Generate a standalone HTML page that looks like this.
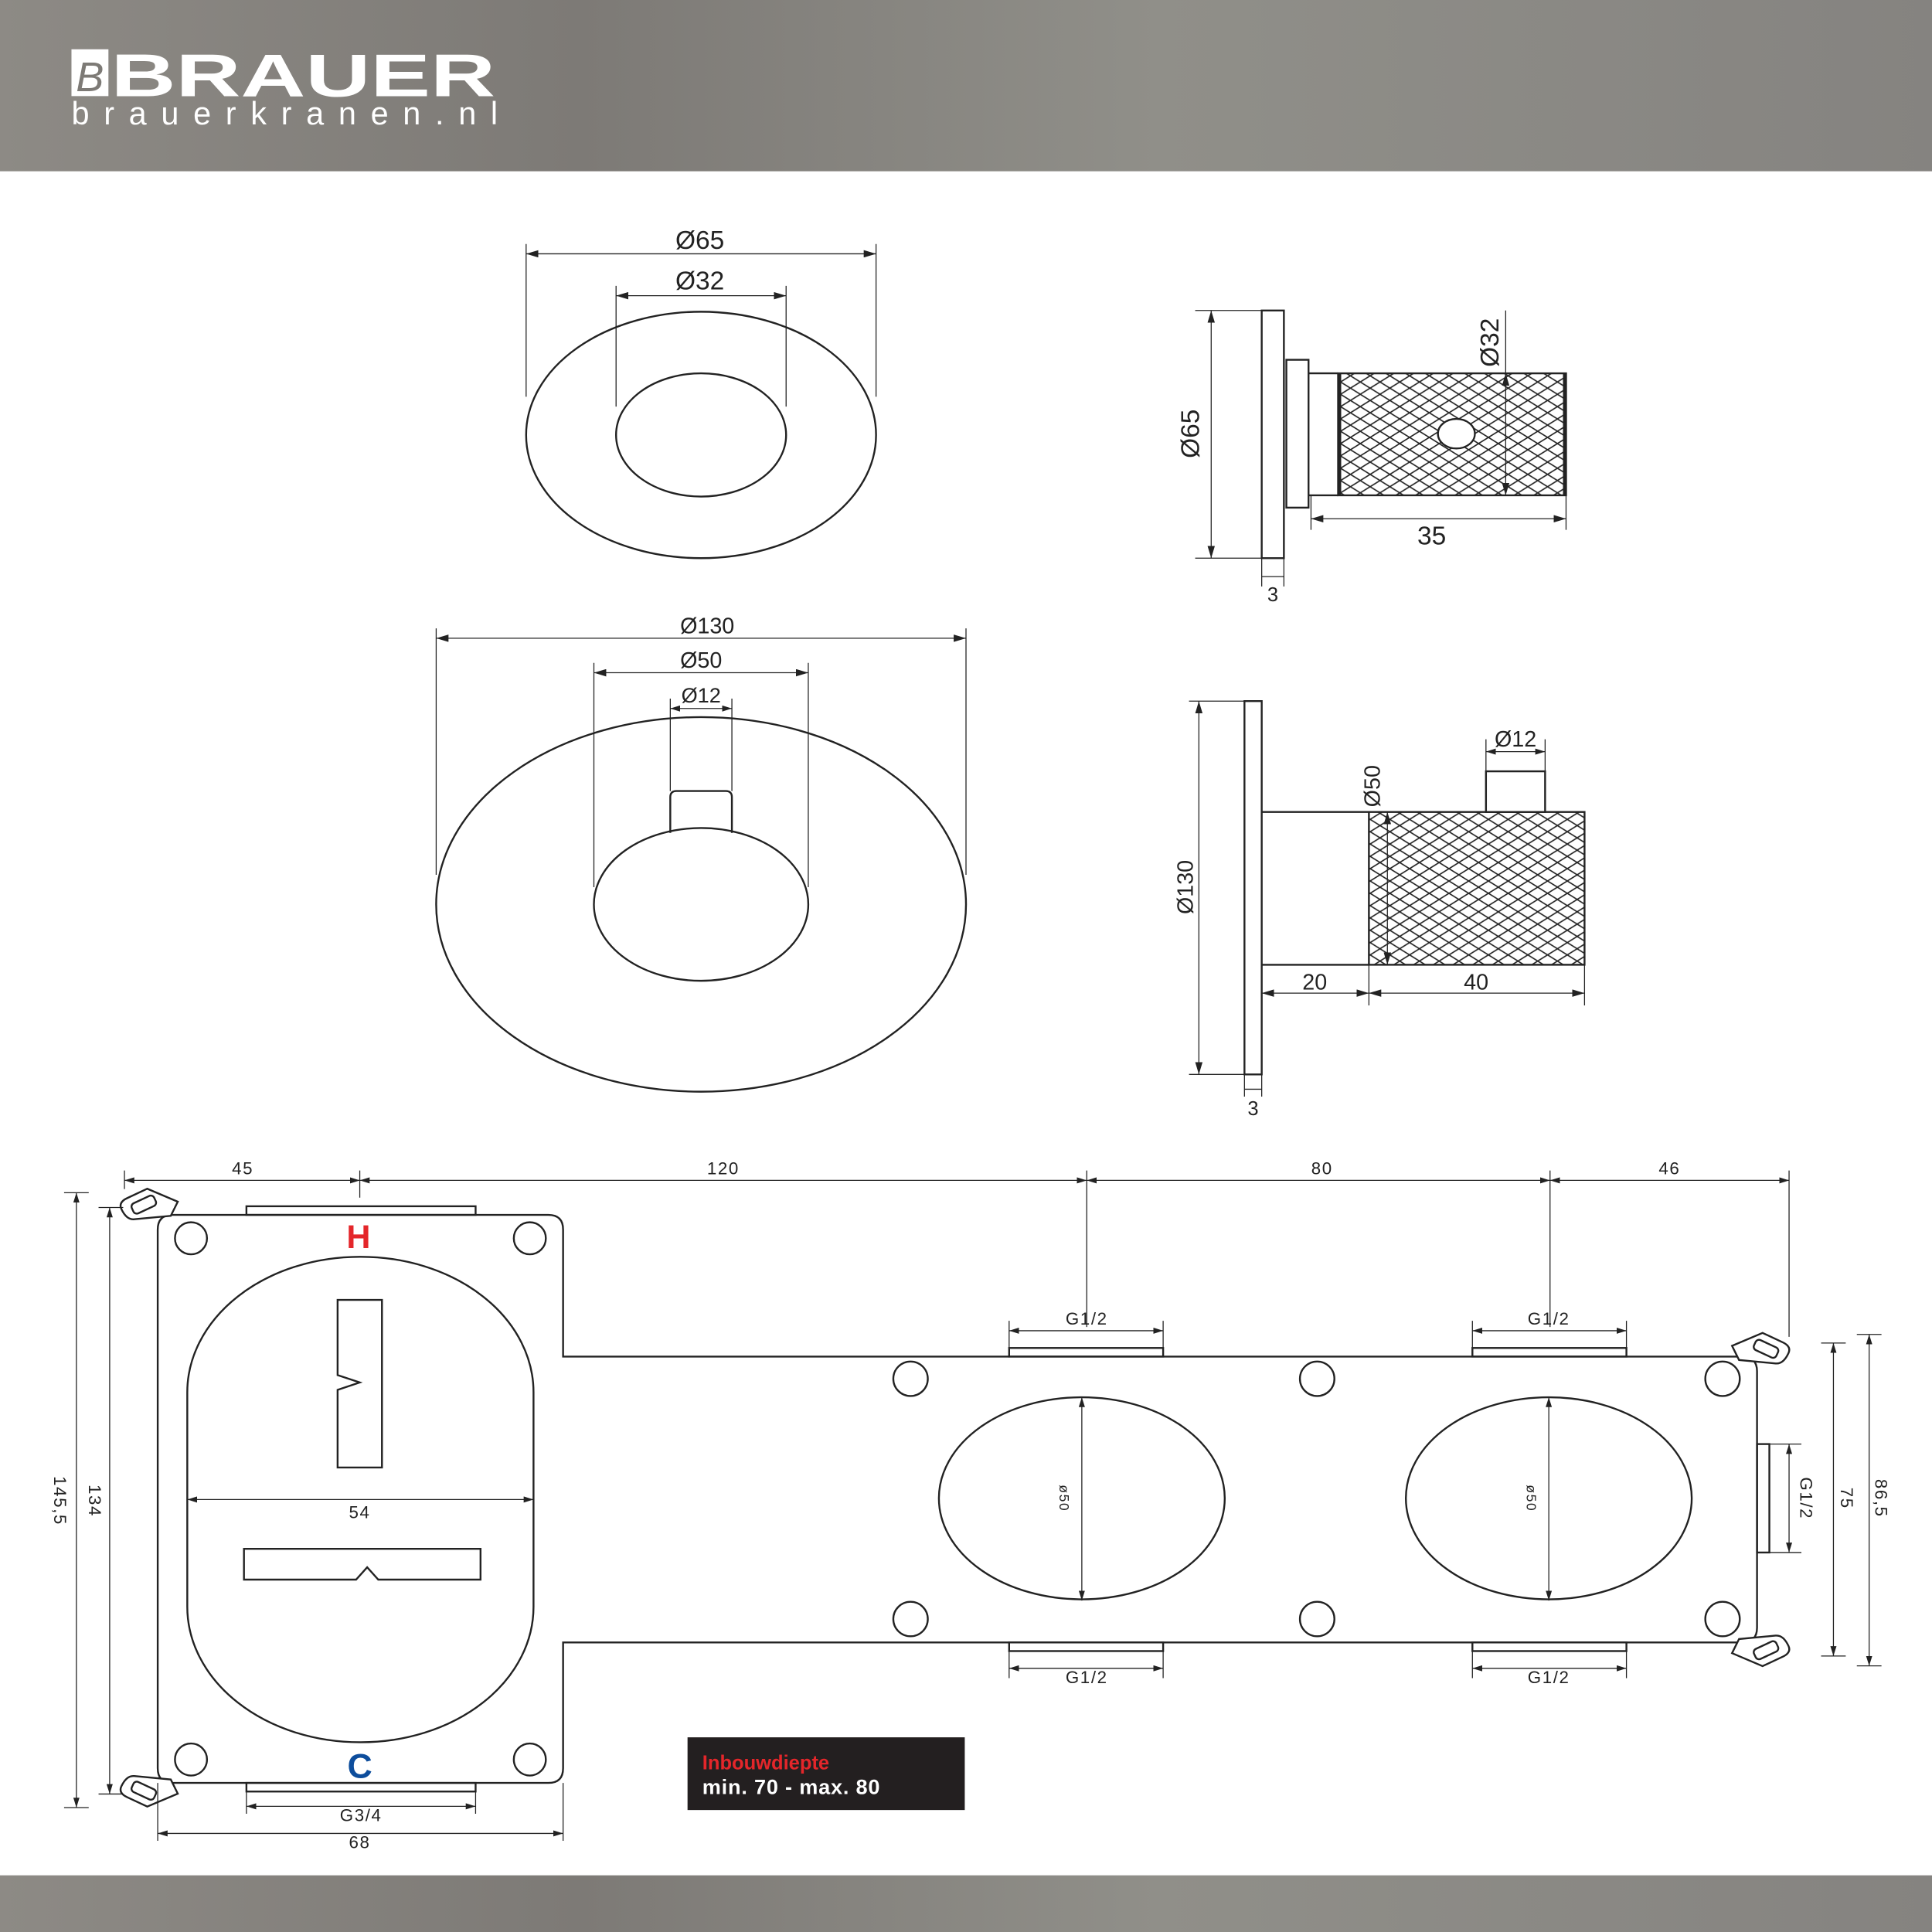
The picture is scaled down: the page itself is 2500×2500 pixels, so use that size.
<!DOCTYPE html>
<html><head><meta charset="utf-8"><style>
html,body{margin:0;padding:0;background:#fff}
svg{display:block}
text{font-family:"Liberation Sans",sans-serif;fill:#222}
</style></head><body>
<svg width="2500" height="2500" viewBox="0 0 1568 1568" xmlns="http://www.w3.org/2000/svg">
<defs>
<linearGradient id="hg" x1="0" y1="0" x2="1" y2="0">
<stop offset="0" stop-color="#8d8a85"/><stop offset="0.3" stop-color="#7d7a76"/><stop offset="0.6" stop-color="#908f89"/><stop offset="1" stop-color="#858380"/></linearGradient>
<pattern id="knurl" width="16" height="10" patternUnits="userSpaceOnUse">
<path d="M0,0 L16,10 M0,10 L16,0 M-8,5 L0,10 M8,-5 L16,0 M-8,5 L0,0 M8,15 L16,10" stroke="#222" stroke-width="1" fill="none"/></pattern>
<marker id="a" viewBox="0 0 10 6" refX="10" refY="3" markerWidth="10" markerHeight="6" orient="auto-start-reverse" markerUnits="userSpaceOnUse"><path d="M0,0 L10,3 L0,6 Z" fill="#222"/></marker>
<marker id="s" viewBox="0 0 8 5" refX="8" refY="2.5" markerWidth="8" markerHeight="5" orient="auto-start-reverse" markerUnits="userSpaceOnUse"><path d="M0,0 L8,2.5 L0,5 Z" fill="#222"/></marker>
</defs>
<rect width="1568" height="139" fill="url(#hg)"/>
<rect y="1522" width="1568" height="46" fill="url(#hg)"/>
<rect x="58" y="40" width="30" height="38" fill="#fff"/>
<text x="73" y="74" font-size="34" font-style="italic" font-family="Liberation Serif" text-anchor="middle" style="fill:#7d7a76">B</text>
<text x="90" y="78" font-size="49" font-weight="bold" style="fill:#fff" textLength="312" lengthAdjust="spacingAndGlyphs">BRAUER</text>
<text x="58" y="101" font-size="26" style="fill:#fff" textLength="346" lengthAdjust="spacing">brauerkranen.nl</text>

<g fill="none" stroke="#222" stroke-width="1.5">
<!-- top left -->
<ellipse cx="569" cy="353" rx="142" ry="100"/>
<ellipse cx="569" cy="353" rx="69" ry="50"/>
<!-- top right -->
<rect x="1024" y="252" width="18" height="201"/>
<rect x="1044" y="292" width="18" height="120"/>
<path d="M1062,303 H1086 M1062,402 H1086"/>
<rect x="1086" y="303" width="185" height="99" fill="url(#knurl)"/>
<path d="M1087,303 V402 M1270,303 V402" stroke-width="3"/>
<ellipse cx="1182" cy="352" rx="15" ry="12" fill="#fff"/>
<!-- middle left -->
<ellipse cx="569" cy="734" rx="215" ry="152"/>
<ellipse cx="569" cy="734" rx="87" ry="62"/>
<path d="M544,676 V647 Q544,642 549,642 H589 Q594,642 594,647 V676"/>
<!-- middle right -->
<rect x="1010" y="569" width="14" height="303"/>
<path d="M1024,659 H1111 M1024,783 H1111"/>
<rect x="1111" y="659" width="175" height="124" fill="url(#knurl)"/>
<rect x="1206" y="626" width="48" height="33" fill="#fff"/>
<!-- bottom -->
<path d="M140,986 H445 Q457,986 457,998 V1101 H1414 Q1426,1101 1426,1113 V1321 Q1426,1333 1414,1333 H457 V1435 Q457,1447 445,1447 H140 Q128,1447 128,1435 V998 Q128,986 140,986 Z"/>
<rect x="152" y="1020" width="281" height="394" rx="140" ry="110"/>
<path d="M274,1055 H310 V1191 H274 V1128 L292,1122 L274,1116 Z"/>
<path d="M198,1257 H390 V1282 H307 L298,1272 L289,1282 H198 Z"/>
<rect x="200" y="979" width="186" height="7"/>
<rect x="200" y="1447" width="186" height="7"/>
<rect x="819" y="1094" width="125" height="7"/>
<rect x="1195" y="1094" width="125" height="7"/>
<rect x="819" y="1333" width="125" height="7"/>
<rect x="1195" y="1333" width="125" height="7"/>
<rect x="1426" y="1172" width="10" height="88"/>
<ellipse cx="878" cy="1216" rx="116" ry="82"/>
<ellipse cx="1257" cy="1216" rx="116" ry="82"/>
<g>
<circle cx="155" cy="1005" r="13"/><circle cx="430" cy="1005" r="13"/>
<circle cx="155" cy="1428" r="13"/><circle cx="430" cy="1428" r="13"/>
<circle cx="739" cy="1119" r="14"/><circle cx="1069" cy="1119" r="14"/><circle cx="1398" cy="1119" r="14"/>
<circle cx="739" cy="1314" r="14"/><circle cx="1069" cy="1314" r="14"/><circle cx="1398" cy="1314" r="14"/>
</g>
<g transform="translate(120,980) rotate(-25)"><path d="M-20,-8 Q-20,-14 -12,-14 H6 L24,6 L14,14 L-14,4 Q-20,2 -20,-8 Z" fill="#fff"/><rect x="-12" y="-8" width="20" height="9" rx="3"/></g>
<g transform="translate(120,1451) scale(1,-1) rotate(-25)"><path d="M-20,-8 Q-20,-14 -12,-14 H6 L24,6 L14,14 L-14,4 Q-20,2 -20,-8 Z" fill="#fff"/><rect x="-12" y="-8" width="20" height="9" rx="3"/></g>
<g transform="translate(1430,1097) scale(-1,1) rotate(-25)"><path d="M-20,-8 Q-20,-14 -12,-14 H6 L24,6 L14,14 L-14,4 Q-20,2 -20,-8 Z" fill="#fff"/><rect x="-12" y="-8" width="20" height="9" rx="3"/></g>
<g transform="translate(1430,1337) scale(-1,-1) rotate(-25)"><path d="M-20,-8 Q-20,-14 -12,-14 H6 L24,6 L14,14 L-14,4 Q-20,2 -20,-8 Z" fill="#fff"/><rect x="-12" y="-8" width="20" height="9" rx="3"/></g>
</g>

<!-- dimension lines -->
<g stroke="#222" stroke-width="0.8" fill="none">
<path d="M427,198 V322 M711,198 V322 M500,232 V330 M638,232 V330"/>
<line x1="427" y1="206" x2="711" y2="206" marker-start="url(#a)" marker-end="url(#a)"/>
<line x1="500" y1="240" x2="638" y2="240" marker-start="url(#a)" marker-end="url(#a)"/>
<path d="M970,252 H1024 M970,453 H1024 M1222,252 V303 M1064,402 V430 M1271,402 V430 M1024,453 V476 M1042,453 V476"/>
<line x1="983" y1="252" x2="983" y2="453" marker-start="url(#a)" marker-end="url(#a)"/>
<line x1="1222" y1="303" x2="1222" y2="402" marker-start="url(#a)" marker-end="url(#a)"/>
<line x1="1064" y1="421" x2="1271" y2="421" marker-start="url(#a)" marker-end="url(#a)"/>
<line x1="1024" y1="468" x2="1042" y2="468"/>
<path d="M354,510 V710 M784,510 V710 M482,538 V720 M656,538 V720 M544,567 V642 M594,567 V642"/>
<line x1="354" y1="518" x2="784" y2="518" marker-start="url(#a)" marker-end="url(#a)"/>
<line x1="482" y1="546" x2="656" y2="546" marker-start="url(#a)" marker-end="url(#a)"/>
<line x1="544" y1="575" x2="594" y2="575" marker-start="url(#s)" marker-end="url(#s)"/>
<path d="M965,569 H1010 M965,872 H1010 M1206,600 V626 M1254,600 V626 M1024,783 V816 M1111,783 V816 M1286,783 V816 M1010,872 V890 M1024,872 V890"/>
<line x1="973" y1="569" x2="973" y2="872" marker-start="url(#a)" marker-end="url(#a)"/>
<line x1="1126" y1="659" x2="1126" y2="783" marker-start="url(#a)" marker-end="url(#a)"/>
<line x1="1206" y1="610" x2="1254" y2="610" marker-start="url(#s)" marker-end="url(#s)"/>
<line x1="1024" y1="806" x2="1111" y2="806" marker-start="url(#a)" marker-end="url(#a)"/>
<line x1="1111" y1="806" x2="1286" y2="806" marker-start="url(#a)" marker-end="url(#a)"/>
<line x1="1010" y1="884" x2="1024" y2="884"/>
<!-- bottom dims -->
<path d="M101,950 V965 M292,950 V972 M882,950 V1077 M1258,950 V1077 M1452,950 V1085"/>
<line x1="101" y1="958" x2="292" y2="958" marker-start="url(#s)" marker-end="url(#s)"/>
<line x1="292" y1="958" x2="882" y2="958" marker-start="url(#s)" marker-end="url(#s)"/>
<line x1="882" y1="958" x2="1258" y2="958" marker-start="url(#s)" marker-end="url(#s)"/>
<line x1="1258" y1="958" x2="1452" y2="958" marker-start="url(#s)" marker-end="url(#s)"/>
<path d="M52,968 H72 M52,1467 H72 M80,980 H100 M80,1456 H100"/>
<line x1="62" y1="968" x2="62" y2="1467" marker-start="url(#s)" marker-end="url(#s)"/>
<line x1="89" y1="980" x2="89" y2="1456" marker-start="url(#s)" marker-end="url(#s)"/>
<line x1="152" y1="1217" x2="433" y2="1217" marker-start="url(#s)" marker-end="url(#s)"/>
<path d="M819,1072 V1094 M944,1072 V1094 M1195,1072 V1094 M1320,1072 V1094 M819,1340 V1362 M944,1340 V1362 M1195,1340 V1362 M1320,1340 V1362"/>
<line x1="819" y1="1080" x2="944" y2="1080" marker-start="url(#s)" marker-end="url(#s)"/>
<line x1="1195" y1="1080" x2="1320" y2="1080" marker-start="url(#s)" marker-end="url(#s)"/>
<line x1="819" y1="1354" x2="944" y2="1354" marker-start="url(#s)" marker-end="url(#s)"/>
<line x1="1195" y1="1354" x2="1320" y2="1354" marker-start="url(#s)" marker-end="url(#s)"/>
<line x1="878" y1="1134" x2="878" y2="1299" marker-start="url(#s)" marker-end="url(#s)"/>
<line x1="1257" y1="1134" x2="1257" y2="1299" marker-start="url(#s)" marker-end="url(#s)"/>
<path d="M1436,1172 H1462 M1436,1260 H1462 M1478,1090 H1498 M1478,1344 H1498 M1507,1083 H1527 M1507,1352 H1527"/>
<line x1="1452" y1="1172" x2="1452" y2="1260" marker-start="url(#s)" marker-end="url(#s)"/>
<line x1="1488" y1="1090" x2="1488" y2="1344" marker-start="url(#s)" marker-end="url(#s)"/>
<line x1="1517" y1="1083" x2="1517" y2="1352" marker-start="url(#s)" marker-end="url(#s)"/>
<path d="M200,1454 V1472 M386,1454 V1472 M128,1447 V1494 M457,1447 V1494"/>
<line x1="200" y1="1466" x2="386" y2="1466" marker-start="url(#s)" marker-end="url(#s)"/>
<line x1="128" y1="1488" x2="457" y2="1488" marker-start="url(#s)" marker-end="url(#s)"/>
</g>

<g font-size="21" text-anchor="middle">
<text x="568" y="202">Ø65</text>
<text x="568" y="235">Ø32</text>
<text transform="translate(973,352) rotate(-90)">Ø65</text>
<text transform="translate(1216,278) rotate(-90)">Ø32</text>
<text x="1162" y="442">35</text>
<text x="1033" y="488" font-size="16">3</text>
<text x="574" y="514" font-size="18">Ø130</text>
<text x="569" y="542" font-size="18">Ø50</text>
<text x="569" y="570" font-size="17">Ø12</text>
<text x="1230" y="606" font-size="18">Ø12</text>
<text transform="translate(1120,638) rotate(-90)" font-size="18">Ø50</text>
<text transform="translate(968,720) rotate(-90)" font-size="18">Ø130</text>
<text x="1067" y="803" font-size="18">20</text>
<text x="1198" y="803" font-size="18">40</text>
<text x="1017" y="905" font-size="16">3</text>
</g>
<g font-size="14" text-anchor="middle" letter-spacing="1">
<text x="197" y="953">45</text>
<text x="587" y="953">120</text>
<text x="1073" y="953">80</text>
<text x="1355" y="953">46</text>
<text x="292" y="1232">54</text>
<text x="882" y="1075">G1/2</text>
<text x="1257" y="1075">G1/2</text>
<text x="882" y="1366">G1/2</text>
<text x="1257" y="1366">G1/2</text>
<text x="293" y="1478">G3/4</text>
<text x="292" y="1500">68</text>
<text transform="translate(44,1218) rotate(90)">145,5</text>
<text transform="translate(72,1218) rotate(90)">134</text>
<text transform="translate(1461,1216) rotate(90)">G1/2</text>
<text transform="translate(1494,1216) rotate(90)">75</text>
<text transform="translate(1522,1216) rotate(90)">86,5</text>
<text transform="translate(860,1216) rotate(90)" font-size="11">ø50</text>
<text transform="translate(1239,1216) rotate(90)" font-size="11">ø50</text>
</g>
<text x="291" y="1013" font-size="27" font-weight="bold" text-anchor="middle" style="fill:#e4262a">H</text>
<text x="292" y="1443" font-size="28" font-weight="bold" text-anchor="middle" style="fill:#0d4d9c">C</text>
<rect x="558" y="1410" width="225" height="59" fill="#231f20"/>
<text x="570" y="1436" font-size="16" font-weight="bold" style="fill:#e4262a">Inbouwdiepte</text>
<text x="570" y="1456" font-size="17" font-weight="bold" style="fill:#fff" letter-spacing="0.5">min. 70 - max. 80</text>
</svg>
</body></html>
